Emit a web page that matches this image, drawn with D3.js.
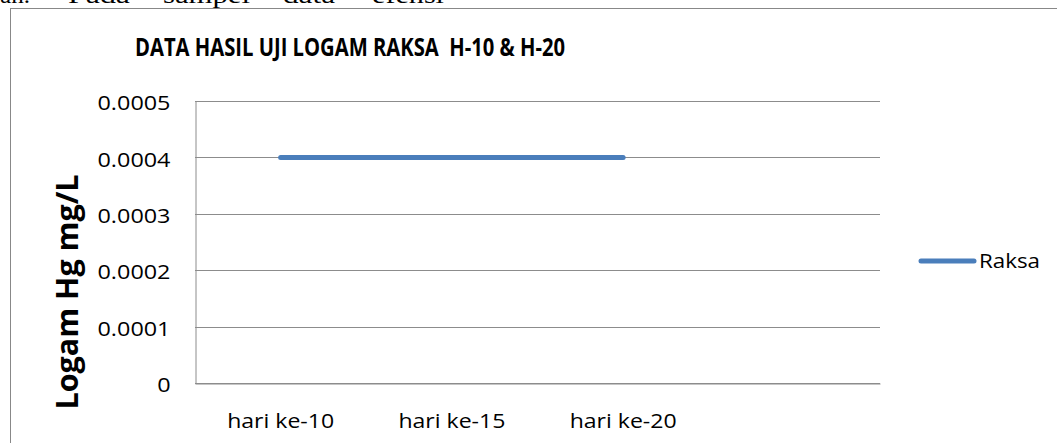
<!DOCTYPE html>
<html>
<head>
<meta charset="utf-8">
<script src="https://cdn.jsdelivr.net/npm/d3@7"></script>
<style>
  body { margin: 0; background: #fff; }
  svg { display: block; }
</style>
</head>
<body>
<svg id="chart" width="1057" height="443"></svg>
<script>
// data
var categories = ["hari ke-10", "hari ke-15", "hari ke-20", ""];
var raksa = [0.0004, 0.0004, 0.0004, null];
var yTicks = [0, 0.0001, 0.0002, 0.0003, 0.0004, 0.0005];
var seriesName = "Raksa";
var chartTitle = "DATA HASIL UJI LOGAM RAKSA\u00a0\u00a0H-10 & H-20";
var yTitle = "Logam Hg mg/L";
// the document text cut off above the chart
var pageWords = ["an.", "Pada", "sampel", "data", "efensi"];
var pageWordX = [0, 68, 163, 283, 372];
var pageWordW = [30, 62, 87, 52, 72];

var svg = d3.select("#chart");
var font = "'Open Sans', sans-serif";
var margin = {left: 195, right: 177, top: 101, bottom: 60};
var W = 1057, H = 443;

// fit text to the widths measured on the picture
function stretch(sel, refWidth) {
    var nodes = sel.nodes();
    if (!nodes.length) return;
    var k = refWidth / nodes[0].getComputedTextLength();
    sel.each(function(){
        var w = this.getComputedTextLength();
        if (w > 0) {
            d3.select(this)
                .attr("textLength", w * k)
                .attr("lengthAdjust", "spacingAndGlyphs");
        }
    });
}

// document text on top, mostly clipped
svg.selectAll("text.page")
    .data(pageWords)
    .enter()
    .append("text")
    .attr("class", "page")
    .attr("x", function(d, i){ return pageWordX[i]; })
    .attr("y", 3)
    .attr("font-family", "'Liberation Serif', serif")
    .attr("font-size", 23)
    .attr("textLength", function(d, i){ return pageWordW[i]; })
    .attr("lengthAdjust", "spacingAndGlyphs")
    .text(function(d){ return d; });

// chart frame
svg.append("rect")
    .attr("x", 10.5)
    .attr("y", 8.5)
    .attr("width", 1100)
    .attr("height", 500)
    .attr("fill", "#fff")
    .attr("stroke", "#888")
    .attr("stroke-width", 1);

var x = d3.scaleBand()
    .domain(d3.range(categories.length))
    .range([margin.left, W - margin.right]);

var y = d3.scaleLinear()
    .domain([0, 0.0005])
    .range([H - margin.bottom, margin.top]);

// gridlines
svg.append("g")
    .selectAll("line")
    .data(yTicks)
    .enter()
    .append("line")
    .attr("x1", margin.left)
    .attr("x2", W - margin.right)
    .attr("y1", function(d){ return Math.round(y(d)) + 0.5; })
    .attr("y2", function(d){ return Math.round(y(d)) + 0.5; })
    .attr("stroke", "#8c8c8c")
    .attr("stroke-width", 1);

// y axis
var yAxis = d3.axisLeft(y)
    .tickValues(yTicks.slice().reverse())
    .tickSize(0)
    .tickPadding(25)
    .tickFormat(function(d){ return d === 0 ? "0" : d.toFixed(4); });

var gy = svg.append("g")
    .attr("transform", "translate(" + (margin.left + 0.5) + ",0.5)")
    .call(yAxis);
gy.select(".domain").attr("stroke", "#8c8c8c");
gy.selectAll("text")
    .attr("font-family", font)
    .attr("font-size", 19.5)
    .attr("dy", "0.42em")
    .attr("fill", "#000");
stretch(gy.selectAll("text"), 73);

// x axis
var xAxis = d3.axisBottom(x)
    .tickSize(0)
    .tickPadding(30)
    .tickFormat(function(i){ return categories[i]; });

var gx = svg.append("g")
    .attr("transform", "translate(0," + (Math.round(y(0)) + 0.5) + ")")
    .call(xAxis);
gx.select(".domain").attr("stroke", "#8c8c8c");
gx.selectAll("text")
    .attr("font-family", font)
    .attr("font-size", 20)
    .attr("fill", "#000");
stretch(gx.selectAll("text"), 107);

// series line
var line = d3.line()
    .defined(function(d){ return d != null; })
    .x(function(d, i){ return x(i) + x.bandwidth() / 2; })
    .y(function(d){ return Math.round(y(d)) + 0.5; });

svg.append("path")
    .datum(raksa)
    .attr("d", line)
    .attr("fill", "none")
    .attr("stroke", "#4a7ebb")
    .attr("stroke-width", 5)
    .attr("stroke-linecap", "round");

// title
var title = svg.append("text")
    .attr("x", 135)
    .attr("y", 56)
    .attr("font-family", font)
    .attr("font-weight", "bold")
    .attr("font-size", 24.5)
    .text(chartTitle);
stretch(title, 430);

// y title
var yt = svg.append("text")
    .attr("transform", "translate(78,292) rotate(-90)")
    .attr("text-anchor", "middle")
    .attr("font-family", font)
    .attr("font-weight", "bold")
    .attr("font-size", 31)
    .text(yTitle);
stretch(yt, 235);

// legend
var lg = svg.append("g").attr("transform", "translate(921,261)");
lg.append("line")
    .attr("x1", 0)
    .attr("x2", 53)
    .attr("stroke", "#4a7ebb")
    .attr("stroke-width", 5)
    .attr("stroke-linecap", "round");
var lt = lg.append("text")
    .attr("x", 58)
    .attr("y", 7)
    .attr("font-family", font)
    .attr("font-size", 20)
    .text(seriesName);
stretch(lt, 61);
</script>
</body>
</html>
